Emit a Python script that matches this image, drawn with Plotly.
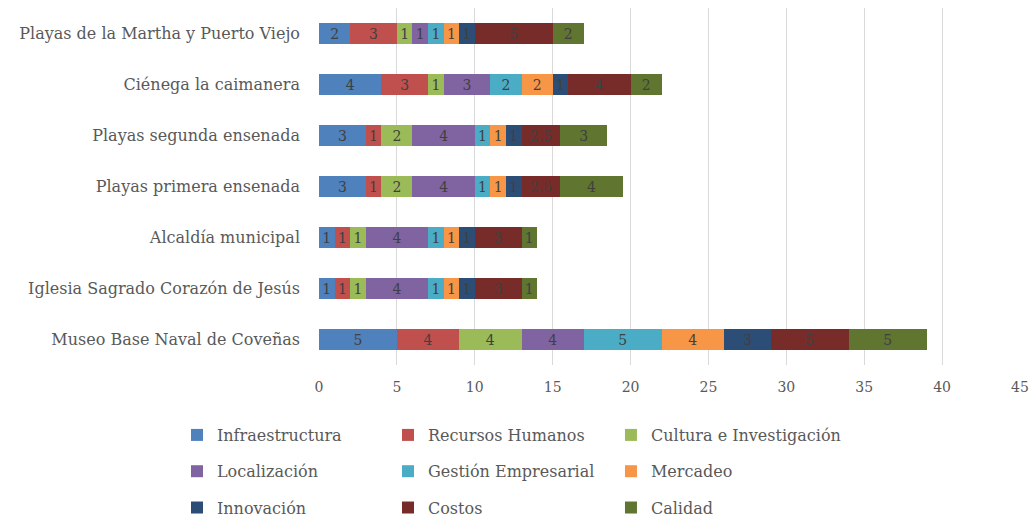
import plotly.graph_objects as go

categories = [
    "Museo Base Naval de Coveñas",
    "Iglesia Sagrado Corazón de Jesús",
    "Alcaldía municipal",
    "Playas primera ensenada",
    "Playas segunda ensenada",
    "Ciénega la caimanera",
    "Playas de la Martha y Puerto Viejo",
]

infraestructura = [5, 1, 1, 3, 3, 4, 2]
recursos_humanos = [4, 1, 1, 1, 1, 3, 3]
cultura = [4, 1, 1, 2, 2, 1, 1]
localizacion = [4, 4, 4, 4, 4, 3, 1]
gestion = [5, 1, 1, 1, 1, 2, 1]
mercadeo = [4, 1, 1, 1, 1, 2, 1]
innovacion = [3, 1, 1, 1, 1, 1, 1]
costos = [5, 3, 3, 2.5, 2.5, 4, 5]
calidad = [5, 1, 1, 4, 3, 2, 2]

series_names = [
    "Infraestructura", "Recursos Humanos", "Cultura e Investigación",
    "Localización", "Gestión Empresarial", "Mercadeo",
    "Innovación", "Costos", "Calidad",
]
series_values = [infraestructura, recursos_humanos, cultura, localizacion,
                 gestion, mercadeo, innovacion, costos, calidad]
colors = ["#4F81BD", "#C0504D", "#9BBB59", "#8064A2", "#4BACC6",
          "#F79646", "#2C4D75", "#772C2A", "#5F7530"]

FONT = "DejaVu Serif"
TXT = "#595959"

fig = go.Figure()
legend_ids = ["legend", "legend2", "legend3"] * 3
for i, (name, vals, col, lg) in enumerate(zip(series_names, series_values, colors, legend_ids)):
    fig.add_trace(go.Bar(
        y=categories, x=vals, name=name, orientation="h",
        marker=dict(color=col, line=dict(width=0)),
        text=[f"{v:g}" for v in vals], textposition="inside",
        insidetextanchor="middle", constraintext="none", textangle=0,
        textfont=dict(family=FONT, size=14, color="#404040"),
        legend=lg, legendgroup=f"g{i}",
    ))

leg_common = dict(orientation="v", xanchor="left", yanchor="top",
                  traceorder="grouped", tracegroupgap=12.5,
                  font=dict(family=FONT, size=16, color=TXT),
                  bgcolor="rgba(0,0,0,0)", itemclick=False)
ly = -0.1485
fig.update_layout(
    barmode="stack",
    bargap=0.57,
    width=1031, height=522,
    margin=dict(l=319, r=11, t=8, b=157, autoexpand=False),
    plot_bgcolor="white", paper_bgcolor="white",
    font=dict(family=FONT, size=14, color=TXT),
    xaxis=dict(range=[0, 45], dtick=5, showgrid=True, gridcolor="#D9D9D9",
               gridwidth=1, zeroline=False, showline=False, automargin=False,
               tickfont=dict(family=FONT, size=14, color=TXT),
               ticklabelstandoff=12, ticklabeloverflow="allow"),
    yaxis=dict(showgrid=False, showline=False, zeroline=False, automargin=False,
               tickfont=dict(family=FONT, size=16, color=TXT),
               ticklabelstandoff=18),
    legend=dict(x=-0.2026, y=ly, **leg_common),
    legend2=dict(x=0.0984, y=ly, **leg_common),
    legend3=dict(x=0.4165, y=ly, **leg_common),
    showlegend=True,
)

fig.write_html(
    "out.html",
    config={"displayModeBar": False},
    post_script="document.body.style.margin='0';document.body.style.overflow='hidden';",
)
